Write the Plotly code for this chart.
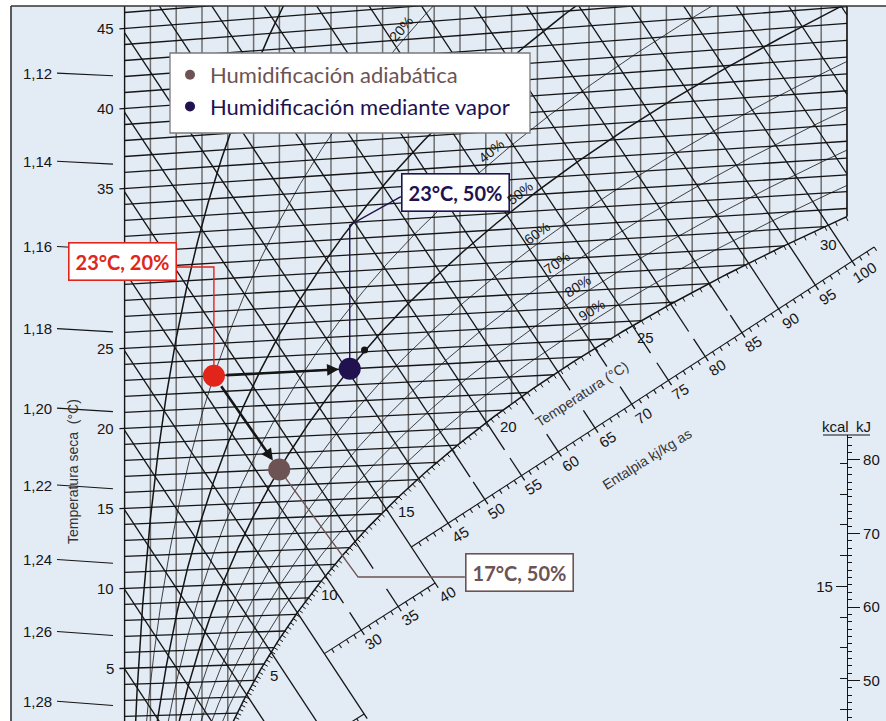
import numpy as np
import plotly.graph_objects as go

P_ATM = 101.325  # kPa

# ---------------- chart content ----------------
moisture_grid = list(range(0, 29))              # g/kg, vertical lines
isotherm_grid = list(range(0, 48))              # °C
enthalpy_grid = list(range(5, 120, 5))          # kJ/kg
rh_curves = [10, 20, 30, 40, 50, 60, 70, 80, 90]
rh_bold = [10, 30, 50]
rh_labels = [20, 40, 50, 60, 70, 80, 90]
rh_label_temp = [43.3, 35.4, 32.7, 30.2, 28.3, 26.8, 25.3]
dry_bulb_labels = [5, 10, 15, 20, 25, 35, 40, 45]
sat_scale_labels = [5, 10, 15, 20, 25, 30]
enthalpy_scale_labels = list(range(30, 105, 5))
enthalpy_full_guides = [15, 20, 25, 40]
density_labels = [1.12, 1.14, 1.16, 1.18, 1.20, 1.22, 1.24, 1.26, 1.28]

state_text = ["23°C, 20%", "23°C, 50%", "17°C, 50%"]
state_t = [23, 23, 17]
state_rh = [20, 50, 50]
process_names = ["Humidificación adiabática", "Humidificación mediante vapor"]
extra_point_t = 24.1     # °C
extra_point_x = 9.3      # g/kg

# ---------------- geometry of the skewed h-x diagram ----------------
K_SKEW = 2.46
X_RANGE = [-4.403, 29.512]
Y_RANGE = [1.717, 46.686]
X_EDGE = 28
PLOT_W, PLOT_H = 875, 715
PX_X = PLOT_W / (X_RANGE[1] - X_RANGE[0])
PX_Y = PLOT_H / (Y_RANGE[1] - Y_RANGE[0])
# enthalpy scale segments: Y = a + b*x, valid from h_lo to h_hi
ENTH_SEGMENTS = [(-7.4, 1.03, 10, 25), (-2.04, 1.033, 25, 40), (0.966, 1.052, 40, 103)]
KJ_RANGE = [44.49, 83.40]
SCALE_DOMAIN = [0, 0.4]

INK = "#151515"
GREY = "#6e6e6e"
BG = "#e3ebf5"
RED = "#e1251b"
NAVY = "#21124f"
BROWN = "#6d5353"
CHART_FONT = "Liberation Sans, Arial, sans-serif"
LABEL_FONT = "Lato, Open Sans, sans-serif"


def psat(t):
    return 0.61094 * np.exp(17.625 * t / (t + 243.04))


def x_of_pv(pv):
    return 622.0 * pv / (P_ATM - pv)


def x_sat(t):
    return x_of_pv(psat(t))


def x_rh(t, rh):
    return x_of_pv(rh / 100.0 * psat(t))


def enthalpy(t, x):
    return 1.006 * t + x * (2.501 + 0.00186 * t)


def chart_y(t, x):
    return enthalpy(t, x) - K_SKEW * x


def t_dew(x):
    pv = x * P_ATM / (622.0 + x)
    L = np.log(pv / 0.61094)
    return 243.04 * L / (17.625 - L)


def t_sat_of_h(h):
    lo, hi = -30.0, 70.0
    for _ in range(80):
        mid = 0.5 * (lo + hi)
        if enthalpy(mid, x_sat(mid)) < h:
            lo = mid
        else:
            hi = mid
    return 0.5 * (lo + hi)


def t_density(rho, x):
    xk = x / 1000.0
    T = P_ATM * 1000 * (1 + xk) / (287.05 * rho * (1 + 1.6078 * xk))
    return T - 273.15


def unit(u, v):
    n = np.hypot(u, v)
    return u / n, v / n


def shift_pt(x, Y, du, dv):
    return x + du / PX_X, Y + dv / PX_Y


def sat_tangent(t):
    x1, x2 = x_sat(t - 0.01), x_sat(t + 0.01)
    y1, y2 = chart_y(t - 0.01, x1), chart_y(t + 0.01, x2)
    return unit((x2 - x1) * PX_X, (y2 - y1) * PX_Y)


class Path:
    def __init__(self):
        self.x, self.y = [], []

    def add(self, xs, ys):
        self.x.extend(list(xs) + [None])
        self.y.extend(list(ys) + [None])


t_edge = t_dew(X_EDGE)

# moisture content lines
grey_lines, frame_lines = Path(), Path()
for xv in moisture_grid:
    if xv == 0:
        frame_lines.add([0, 0], [Y_RANGE[0] - 1, Y_RANGE[1] + 1])
    else:
        ts = t_dew(xv)
        grey_lines.add([xv, xv], [chart_y(ts, xv), Y_RANGE[1] + 1])
frame_lines.add([X_EDGE, X_EDGE], [chart_y(t_edge, X_EDGE), Y_RANGE[1] + 1])

# isotherms
iso = Path()
for t in isotherm_grid:
    xe = min(X_EDGE, x_sat(t))
    xs = -0.2 if t % 5 == 0 else 0.0
    iso.add([xs, xe], [chart_y(t, xs), chart_y(t, xe)])

# enthalpy lines (grid part + guides towards the enthalpy scale)
enth = Path()
for h in enthalpy_grid:
    ts = t_sat_of_h(h)
    xe = min(X_EDGE, x_sat(ts))
    enth.add([0, xe], [h, h - K_SKEW * xe])
    if 15 <= h <= 100:
        a, b = next((s[0], s[1]) for s in ENTH_SEGMENTS if h <= s[3])
        x_sc = (h - a) / (K_SKEW + b)
        stub_end, tick_start = xe + 0.7, x_sc - 0.45
        if h in enthalpy_full_guides or tick_start - stub_end < 0.05:
            enth.add([xe, x_sc + 0.12], [h - K_SKEW * xe, h - K_SKEW * (x_sc + 0.12)])
        else:
            enth.add([xe, stub_end], [h - K_SKEW * xe, h - K_SKEW * stub_end])
            enth.add([tick_start, x_sc + 0.12], [h - K_SKEW * tick_start, h - K_SKEW * (x_sc + 0.12)])

# relative humidity curves
rh_thin, rh_thick = Path(), Path()
tt = np.arange(-2, 55, 0.1)
for rh in rh_curves:
    xs = x_rh(tt, rh)
    keep = xs <= X_EDGE
    xk, tk = list(xs[keep]), list(tt[keep])
    idx = np.argmax(~keep)
    if idx > 0:
        t_cut = np.interp(X_EDGE, xs[idx - 1:idx + 1], tt[idx - 1:idx + 1])
        xk.append(X_EDGE)
        tk.append(t_cut)
    ys = [chart_y(t, x) for t, x in zip(tk, xk)]
    (rh_thick if rh in rh_bold else rh_thin).add(xk, ys)

# saturation curve, used as dew point temperature scale
ts_line = np.append(np.arange(-1, t_edge, 0.1), t_edge)
sat_x = x_sat(ts_line)
sat_y = chart_y(ts_line, sat_x)
sat_ticks = Path()
for t in np.arange(0.25, t_edge, 0.25):
    x = x_sat(t)
    Y = chart_y(t, x)
    tu, tv = sat_tangent(t)
    xe, ye = shift_pt(x, Y, tv * 4.5, -tu * 4.5)
    sat_ticks.add([x, xe], [Y, ye])

# enthalpy scale segments with 1 kJ ticks
enth_scale = Path()
for a, b, hlo, hhi in ENTH_SEGMENTS:
    x0, x1 = (hlo - a) / (K_SKEW + b), (hhi - a) / (K_SKEW + b)
    enth_scale.add([x0, x1], [a + b * x0, a + b * x1])
    tu, tv = unit(PX_X, b * PX_Y)
    for h in range(hlo, hhi + 1):
        if h % 5 == 0:
            continue
        x = (h - a) / (K_SKEW + b)
        Y = a + b * x
        xe, ye = shift_pt(x, Y, tv * 4.5, -tu * 4.5)
        enth_scale.add([x, xe], [Y, ye])

# density leaders on the left
dens = Path()
for rho in density_labels:
    xl = np.array([-2.62, -0.45])
    dens.add(xl, [chart_y(t_density(rho, v), v) for v in xl])

fig = go.Figure()


def line_trace(p, color, width):
    fig.add_trace(go.Scatter(x=p.x, y=p.y, mode="lines", line=dict(color=color, width=width),
                             hoverinfo="skip", showlegend=False))


line_trace(grey_lines, GREY, 1.5)
line_trace(iso, INK, 1.3)
line_trace(enth, INK, 1.3)
line_trace(rh_thin, INK, 0.8)
line_trace(rh_thick, INK, 1.5)
line_trace(frame_lines, INK, 1.4)
fig.add_trace(go.Scatter(x=sat_x, y=sat_y, mode="lines", line=dict(color=INK, width=1.5),
                         hoverinfo="skip", showlegend=False))
line_trace(sat_ticks, INK, 1)
line_trace(enth_scale, INK, 1.1)
line_trace(dens, INK, 1.1)

# states
sx = [x_rh(t, r) for t, r in zip(state_t, state_rh)]
sy = [chart_y(t, x) for t, x in zip(state_t, sx)]
state_colors = [RED, NAVY, BROWN]

# leader lines from the states to their labels
label_attach = [(2.03, 30.27), (10.71, 34.69), (13.19, 10.77)]
label_elbow = [(None, 30.27), (None, 32.9), (9.05, 10.77)]
label_side = ["right", "left", "left"]
label_yshift = [5.5, 4, 5]
for i in range(3):
    ex = sx[i] if label_elbow[i][0] is None else label_elbow[i][0]
    fig.add_trace(go.Scatter(x=[sx[i], ex, label_attach[i][0]],
                             y=[sy[i], label_elbow[i][1], label_attach[i][1]],
                             mode="lines", line=dict(color=state_colors[i], width=1.4),
                             hoverinfo="skip", showlegend=False))

fig.add_trace(go.Scatter(x=[extra_point_x], y=[chart_y(extra_point_t, extra_point_x)], mode="markers",
                         marker=dict(size=7, color=INK), hoverinfo="skip", showlegend=False))
fig.add_trace(go.Scatter(x=sx, y=sy, mode="markers", marker=dict(size=22, color=state_colors),
                         hoverinfo="skip", showlegend=False))

# legend entries
for name, col in zip(process_names, [BROWN, NAVY]):
    fig.add_trace(go.Scatter(x=[None], y=[None], mode="markers", marker=dict(size=10, color=col),
                             name=f'<span style="color:{col}">{name}</span>'))

# dummy traces for the kJ / kcal conversion scale
fig.add_trace(go.Scatter(x=[None], y=[None], yaxis="y2", showlegend=False, hoverinfo="skip"))
fig.add_trace(go.Scatter(x=[None], y=[None], yaxis="y3", showlegend=False, hoverinfo="skip"))

ann = []

for i in range(3):
    ann.append(dict(x=label_attach[i][0], y=label_attach[i][1], xref="x", yref="y", text=state_text[i],
                    showarrow=False, xanchor=label_side[i], yanchor="middle", yshift=label_yshift[i],
                    font=dict(family=LABEL_FONT, size=20, color=state_colors[i], weight=700),
                    bgcolor="white", bordercolor=state_colors[i], borderwidth=1.6, borderpad=6))

# process arrows
for j in (1, 2):
    ann.append(dict(x=sx[j], y=sy[j], ax=sx[0], ay=sy[0], xref="x", yref="y", axref="x", ayref="y",
                    text="", showarrow=True, arrowhead=2, arrowsize=0.9, arrowwidth=2.6,
                    arrowcolor=INK, standoff=11, startstandoff=11))

# dry bulb labels
for t in dry_bulb_labels:
    ann.append(dict(x=0, y=chart_y(t, 0), xref="x", yref="y", text=str(t), showarrow=False,
                    xanchor="right", yanchor="middle", xshift=-9,
                    font=dict(family=CHART_FONT, size=15, color=INK)))

# density labels
for rho in density_labels:
    ann.append(dict(x=-2.62, y=chart_y(t_density(rho, -2.62), -2.62), xref="x", yref="y",
                    text=f"{rho:.2f}".replace(".", ","), showarrow=False, xanchor="right",
                    yanchor="middle", xshift=-3, font=dict(family=CHART_FONT, size=15, color=INK)))

# saturation temperature labels
for t in sat_scale_labels:
    x = x_sat(t)
    tu, tv = sat_tangent(t)
    ann.append(dict(x=x, y=chart_y(t, x), xref="x", yref="y", text=str(t), showarrow=False,
                    xanchor="center", yanchor="middle",
                    xshift=tv * 15 - 3, yshift=-tu * 15 - 4,
                    font=dict(family=CHART_FONT, size=15, color=INK)))

# enthalpy scale labels
for h in enthalpy_scale_labels:
    a, b = next((s[0], s[1]) for s in ENTH_SEGMENTS if h <= s[3])
    x = (h - a) / (K_SKEW + b)
    tu, tv = unit(PX_X, b * PX_Y)
    ang = np.degrees(np.arctan2(tv, tu))
    ann.append(dict(x=x, y=a + b * x, xref="x", yref="y", text=str(h), showarrow=False,
                    xanchor="center", yanchor="middle",
                    xshift=tv * 16 + tu * 4, yshift=-tu * 16 + tv * 4, textangle=-ang,
                    font=dict(family=CHART_FONT, size=15, color=INK)))

# relative humidity labels
for rh, t in zip(rh_labels, rh_label_temp):
    x = x_rh(t, rh)
    x2 = x_rh(t + 0.01, rh)
    tu, tv = unit((x2 - x) * PX_X, (chart_y(t + 0.01, x2) - chart_y(t, x)) * PX_Y)
    ang = np.degrees(np.arctan2(tv, tu))
    ann.append(dict(x=x, y=chart_y(t, x), xref="x", yref="y", text=f"{rh}%", showarrow=False,
                    xanchor="center", yanchor="middle",
                    xshift=-tv * 9, yshift=tu * 9, textangle=-ang,
                    font=dict(family=CHART_FONT, size=14, color=INK)))


def paper(px, py):
    return (px - 11) / PLOT_W, 1 - (py - 6) / PLOT_H


for text, (px, py), angle in [("Temperatura seca\u00a0\u00a0(°C)", (73, 472), -90),
                              ("Temperatura (°C)", (582, 394), -33),
                              ("Entalpia kj/kg as", (647, 459), -32)]:
    xp, yp = paper(px, py)
    ann.append(dict(x=xp, y=yp, xref="paper", yref="paper", text=text, showarrow=False,
                    xanchor="center", yanchor="middle",
                    textangle=angle, font=dict(family=CHART_FONT, size=14, color="#333"),
                    bgcolor=BG if angle != -90 else None))

for text, px in [("kcal", 835), ("kJ", 863)]:
    xp, yp = paper(px, 426)
    ann.append(dict(x=xp, y=yp, xref="paper", yref="paper", text=text, showarrow=False,
                    xanchor="center", yanchor="middle",
                    font=dict(family=CHART_FONT, size=15, color=INK)))

lx0, ly1 = paper(170, 53)
lx1, ly0 = paper(530, 133)
ux0, uy = paper(823, 435)
ux1, _ = paper(870, 435)
scale_pos, _ = paper(847, 435)

shapes = [
    dict(type="rect", xref="paper", yref="paper", x0=0, x1=1, y0=0, y1=1, fillcolor=BG,
         line=dict(width=0), layer="below"),
    dict(type="rect", xref="paper", yref="paper", x0=lx0, x1=lx1, y0=ly0, y1=ly1, fillcolor="white",
         line=dict(color="#7a7a7a", width=1.3), layer="above"),
    dict(type="line", xref="paper", yref="paper", x0=0, x1=0, y0=0, y1=1,
         line=dict(color="#333", width=1.6)),
    dict(type="line", xref="paper", yref="paper", x0=0, x1=1, y0=1, y1=1,
         line=dict(color="#333", width=1.6)),
    dict(type="line", xref="paper", yref="paper", x0=ux0, x1=ux1, y0=uy, y1=uy,
         line=dict(color=INK, width=1.2)),
]

lgx, lgy = paper(170, 54)
fig.update_layout(
    width=886, height=721, margin=dict(l=11, r=0, t=6, b=0),
    paper_bgcolor="white", plot_bgcolor="rgba(0,0,0,0)",
    xaxis=dict(range=X_RANGE, visible=False),
    yaxis=dict(range=Y_RANGE, visible=False, domain=[0, 1]),
    yaxis2=dict(range=KJ_RANGE, domain=SCALE_DOMAIN, anchor="free", position=scale_pos, side="right",
                showline=True, linecolor=INK, linewidth=1.2, showgrid=False, zeroline=False,
                tickmode="linear", tick0=0, dtick=10, ticks="outside", ticklen=12, tickcolor=INK,
                tickwidth=1.2, tickfont=dict(family=CHART_FONT, size=15, color=INK),
                minor=dict(tickmode="linear", tick0=0, dtick=1, ticks="outside", ticklen=4,
                           tickcolor=INK, showgrid=False)),
    yaxis3=dict(range=[v / 4.1868 for v in KJ_RANGE], domain=SCALE_DOMAIN, anchor="free",
                position=scale_pos, side="left", showline=True, linecolor=INK, linewidth=1.2,
                showgrid=False, zeroline=False, tickmode="array", tickvals=[15], ticks="outside",
                ticklen=11, tickcolor=INK, tickwidth=1.2,
                tickfont=dict(family=CHART_FONT, size=15, color=INK),
                minor=dict(tickmode="linear", tick0=0, dtick=1, ticks="outside", ticklen=7,
                           tickcolor=INK, showgrid=False)),
    showlegend=True,
    legend=dict(x=lgx, y=lgy, xanchor="left", yanchor="top", bgcolor="rgba(0,0,0,0)", borderwidth=0,
                font=dict(family=LABEL_FONT, size=22), tracegroupgap=0, itemclick=False),
    annotations=ann, shapes=shapes,
)

fig.write_html("out.html")
